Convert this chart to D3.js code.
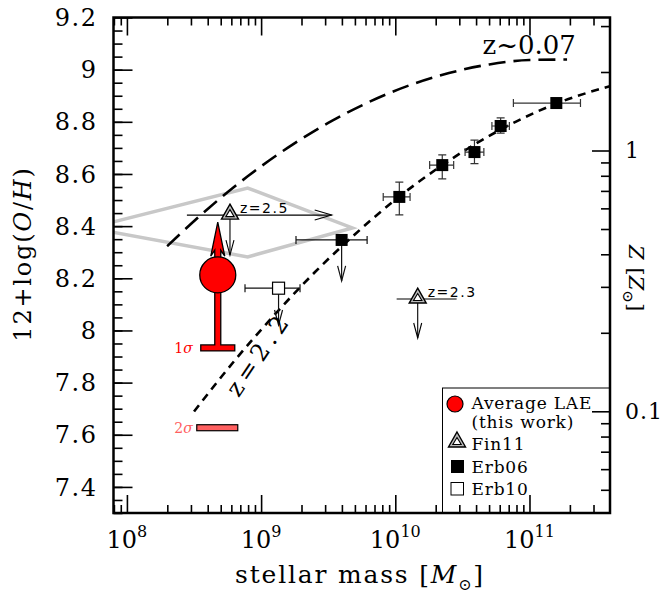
<!DOCTYPE html>
<html>
<head>
<meta charset="utf-8">
<script src="https://cdn.jsdelivr.net/npm/d3@7"></script>
<style>
  body { margin: 0; background: #fff; }
  svg { display: block; font-family: "DejaVu Serif", serif; }
</style>
</head>
<body>
<div id="chart"></div>
<script>
// ---- data (log stellar mass, 12+log(O/H)) ----
const massTicks = [1e8, 1e9, 1e10, 1e11];
const massExp = ["8", "9", "10", "11"];
const ohTicks = [7.4, 7.6, 7.8, 8, 8.2, 8.4, 8.6, 8.8, 9, 9.2];
const zMajor = [0.1, 1];
const zMajorLabels = ["0.1", "1"];
const ohSun = 8.69;

// z~0.07 relation
const mzrLocal = [[8.3, 8.323], [8.6, 8.465], [8.9, 8.591], [9.2, 8.701], [9.5, 8.796],
  [9.8, 8.875], [10.1, 8.939], [10.4, 8.987], [10.7, 9.02], [11.0, 9.037], [11.28, 9.039]];
// z~2.2 relation
const mzrHighz = [[8.5, 7.689], [8.8, 7.883], [9.1, 8.06], [9.4, 8.223], [9.7, 8.369],
  [10.0, 8.501], [10.3, 8.616], [10.6, 8.716], [10.9, 8.801], [11.2, 8.87], [11.6, 8.937]];
// grey region
const greyRegion = [[7.72, 8.393], [8.9, 8.546], [9.68, 8.393], [8.9, 8.282]];

const erb06 = [
  { m: 9.60, oh: 8.347, mLo: 9.26, mHi: 9.79, lim: 8.19 },
  { m: 10.03, oh: 8.512, mLo: 9.91, mHi: 10.11, ohLo: 8.443, ohHi: 8.569 },
  { m: 10.35, oh: 8.634, mLo: 10.256, mHi: 10.435, ohLo: 8.581, ohHi: 8.673 },
  { m: 10.59, oh: 8.684, mLo: 10.52, mHi: 10.66, ohLo: 8.64, ohHi: 8.73 },
  { m: 10.785, oh: 8.784, mLo: 10.72, mHi: 10.85, ohLo: 8.757, ohHi: 8.815 },
  { m: 11.20, oh: 8.872, mLo: 10.88, mHi: 11.38 }
];
const erb10 = [{ m: 9.13, oh: 8.162, mLo: 8.88, mHi: 9.29, lim: 8.021 }];
const fin11 = [
  { m: 8.768, oh: 8.45, mLo: 8.447, mHi: 9.526, lim: 8.289, label: "z=2.5", arrowRight: true },
  { m: 10.167, oh: 8.128, mLo: 10.01, mHi: 10.457, lim: 7.971, label: "z=2.3", arrowRight: false }
];
const lae = { m: 8.677, oh: 8.213, up: 8.415, sig1: 7.933, sig2: 7.627 };

// ---- setup ----
const W = 666, H = 602;
const margin = { left: 113.5, right: 56, top: 17.5, bottom: 89 };
const width = W - margin.left - margin.right;
const height = H - margin.top - margin.bottom;

const svg = d3.select("#chart").append("svg")
  .attr("width", W).attr("height", H);
svg.append("rect").attr("width", W).attr("height", H).attr("fill", "#fff");

const g = svg.append("g")
  .attr("transform", `translate(${margin.left},${margin.top})`);

const x = d3.scaleLog().domain([10 ** 7.9, 10 ** 11.6]).range([0, width]);
const y = d3.scaleLinear().domain([7.3, 9.2]).range([height, 0]);
const z = d3.scaleLog().domain([10 ** (7.3 - ohSun), 10 ** (9.2 - ohSun)]).range([height, 0]);
const X = (lm) => x(10 ** lm);

g.append("clipPath").attr("id", "plot-area")
  .append("rect").attr("width", width).attr("height", height);

const plot = g.append("g").attr("clip-path", "url(#plot-area)");

// grey region
plot.append("path")
  .datum(greyRegion)
  .attr("d", d3.line().x(d => X(d[0])).y(d => y(d[1])).curve(d3.curveLinearClosed))
  .attr("fill", "none")
  .attr("stroke", "#c8c8c8")
  .attr("stroke-width", 3.5);

// relations
const mzrLine = d3.line().x(d => X(d[0])).y(d => y(d[1])).curve(d3.curveMonotoneX);
plot.append("path").datum(mzrLocal)
  .attr("d", mzrLine)
  .attr("fill", "none").attr("stroke", "#000")
  .attr("stroke-width", 2.6).attr("stroke-dasharray", "17,8");
plot.append("path").datum(mzrHighz)
  .attr("d", mzrLine)
  .attr("fill", "none").attr("stroke", "#000")
  .attr("stroke-width", 2.6).attr("stroke-dasharray", "8,6");

g.append("text")
  .attr("x", X(10.65)).attr("y", y(9.06))
  .attr("font-size", 26)
  .text("z~0.07");

g.append("text")
  .attr("transform", `translate(${X(8.98)},${y(7.91)}) rotate(-56)`)
  .attr("text-anchor", "middle")
  .attr("dy", "0.35em")
  .attr("font-size", 24)
  .attr("letter-spacing", 5)
  .text("z=2.2");

// helpers
const downArrow = (sel, xp, y0, y1) => {
  sel.append("line").attr("x1", xp).attr("x2", xp).attr("y1", y0).attr("y2", y1);
  sel.append("path").attr("d", `M${xp - 4},${y1 - 15}L${xp},${y1}L${xp + 4},${y1 - 15}`)
    .attr("fill", "none");
};
const capH = (sel, x0, x1, yp) => {
  sel.append("line").attr("x1", x0).attr("x2", x1).attr("y1", yp).attr("y2", yp);
  [x0, x1].forEach(v => sel.append("line").attr("x1", v).attr("x2", v).attr("y1", yp - 4).attr("y2", yp + 4));
};
const capV = (sel, xp, y0, y1) => {
  sel.append("line").attr("x1", xp).attr("x2", xp).attr("y1", y0).attr("y2", y1);
  [y0, y1].forEach(v => sel.append("line").attr("x1", xp - 4).attr("x2", xp + 4).attr("y1", v).attr("y2", v));
};

// Erb06 and Erb10 error bars
const errs = plot.append("g").attr("stroke", "#333").attr("stroke-width", 1.2);
erb06.concat(erb10).forEach(d => {
  const gg = errs.append("g");
  capH(gg, X(d.mLo), X(d.mHi), y(d.oh));
  if (d.ohLo !== undefined) capV(gg, X(d.m), y(d.ohLo), y(d.ohHi));
  if (d.lim !== undefined) downArrow(gg.attr("stroke", "#111"), X(d.m), y(d.oh), y(d.lim));
});

plot.selectAll(".erb06").data(erb06).join("rect")
  .attr("class", "erb06")
  .attr("x", d => X(d.m) - 6).attr("y", d => y(d.oh) - 6)
  .attr("width", 12).attr("height", 12)
  .attr("fill", "#000");

plot.selectAll(".erb10").data(erb10).join("rect")
  .attr("class", "erb10")
  .attr("x", d => X(d.m) - 6).attr("y", d => y(d.oh) - 6)
  .attr("width", 12).attr("height", 12)
  .attr("fill", "#fff").attr("stroke", "#000").attr("stroke-width", 1.2);

// Fin11
const tri = (sel, cx, cy) => {
  sel.append("path").attr("d", `M${cx},${cy - 9}L${cx + 8.5},${cy + 6}L${cx - 8.5},${cy + 6}Z`)
    .attr("fill", "#bbb").attr("stroke", "#000").attr("stroke-width", 1.4);
  sel.append("path").attr("d", `M${cx},${cy - 3.5}L${cx + 4.2},${cy + 3.5}L${cx - 4.2},${cy + 3.5}Z`)
    .attr("fill", "#fff").attr("stroke", "#000").attr("stroke-width", 1.1);
};
fin11.forEach(d => {
  const gg = plot.append("g").attr("stroke", "#000").attr("stroke-width", 1.1);
  const xp = X(d.m), yp = y(d.oh);
  gg.append("line").attr("x1", X(d.mLo)).attr("x2", X(d.mHi)).attr("y1", yp + 2).attr("y2", yp + 2);
  if (d.arrowRight) {
    gg.append("path").attr("d", `M${X(d.mHi) - 17},${yp - 3}L${X(d.mHi)},${yp + 2}L${X(d.mHi) - 17},${yp + 7}`)
      .attr("fill", "none");
  }
  downArrow(gg, xp, yp + 2, y(d.lim));
  tri(gg, xp, yp);
  plot.append("text")
    .attr("x", xp + 10).attr("y", yp)
    .attr("font-family", "DejaVu Sans, sans-serif")
    .attr("font-size", 14).attr("letter-spacing", 1.5)
    .text(d.label);
});

// average LAE
const lx = X(lae.m), ly = y(lae.oh), r = 18;
const tip = y(lae.up), s1 = y(lae.sig1), s2 = y(lae.sig2);
plot.append("path")
  .attr("d", `M${lx},${tip}L${lx + 7},${tip + 34}L${lx + 3},${tip + 28}L${lx + 3},${ly}L${lx - 3},${ly}L${lx - 3},${tip + 28}L${lx - 7},${tip + 34}Z`)
  .attr("fill", "#ff0000").attr("stroke", "#000").attr("stroke-width", 1.3);
plot.append("path")
  .attr("d", `M${lx - 3},${ly}L${lx + 3},${ly}L${lx + 3},${s1 - 3}L${lx + 17},${s1 - 3}L${lx + 17},${s1 + 3}L${lx - 17},${s1 + 3}L${lx - 17},${s1 - 3}L${lx - 3},${s1 - 3}Z`)
  .attr("fill", "#ff0000").attr("stroke", "#000").attr("stroke-width", 1.3);
plot.append("rect")
  .attr("x", lx - 21).attr("y", s2 - 3).attr("width", 41).attr("height", 6)
  .attr("fill", "#ff6060").attr("stroke", "#000").attr("stroke-width", 1.2);
plot.append("circle")
  .attr("cx", lx).attr("cy", ly).attr("r", r)
  .attr("fill", "#ff0000").attr("stroke", "#000").attr("stroke-width", 1.3);
plot.append("text").attr("x", lx - 25).attr("y", s1 + 5)
  .attr("text-anchor", "end").attr("font-size", 14).attr("fill", "#ff0000")
  .html('1<tspan font-style="italic">σ</tspan>');
plot.append("text").attr("x", lx - 25).attr("y", s2 + 5)
  .attr("text-anchor", "end").attr("font-size", 14).attr("fill", "#ff6060")
  .html('2<tspan font-style="italic">σ</tspan>');

// ---- legend ----
const leg = g.append("g").attr("transform", `translate(${width - 167.5},${height - 125})`);
leg.append("rect").attr("width", 167.5).attr("height", 125)
  .attr("fill", "#fff").attr("stroke", "#000").attr("stroke-width", 1);
leg.append("circle").attr("cx", 12.5).attr("cy", 16).attr("r", 8)
  .attr("fill", "#ff0000").attr("stroke", "#000").attr("stroke-width", 1.2);
tri(leg, 14.5, 53);
leg.append("rect").attr("x", 8.5).attr("y", 72).attr("width", 13).attr("height", 13).attr("fill", "#000");
leg.append("rect").attr("x", 8.5).attr("y", 94.5).attr("width", 12.5).attr("height", 12.5)
  .attr("fill", "#fff").attr("stroke", "#000").attr("stroke-width", 1);
const legText = [["Average LAE", 21], ["(this work)", 40], ["Fin11", 62], ["Erb06", 85], ["Erb10", 107]];
leg.selectAll(".lt").data(legText).join("text")
  .attr("class", "lt")
  .attr("x", 29).attr("y", d => d[1])
  .attr("font-size", 17).attr("letter-spacing", 0.8)
  .text(d => d[0]);

// ---- axes ----
const isMajor = v => Math.abs(Math.log10(v) - Math.round(Math.log10(v))) < 1e-6;
const minorX = x.ticks().filter(v => !isMajor(v));
const minorY = d3.range(73, 185).map(v => v * 0.05).filter(v => v >= 7.3 && v <= 9.2);
const minorZ = z.ticks().filter(v => !isMajor(v));

const styleAxis = sel => {
  sel.select(".domain").remove();
  sel.selectAll("line").attr("stroke", "#000").attr("stroke-width", 1.6);
};

g.append("g").attr("transform", `translate(0,${height})`)
  .call(d3.axisBottom(x).tickValues(massTicks).tickSize(-18).tickFormat("")).call(styleAxis);
g.append("g").attr("transform", `translate(0,${height})`)
  .call(d3.axisBottom(x).tickValues(minorX).tickSize(-8).tickFormat("")).call(styleAxis);
g.append("g")
  .call(d3.axisTop(x).tickValues(massTicks).tickSize(-18).tickFormat("")).call(styleAxis);
g.append("g")
  .call(d3.axisTop(x).tickValues(minorX).tickSize(-8).tickFormat("")).call(styleAxis);
g.append("g")
  .call(d3.axisLeft(y).tickValues(ohTicks).tickSize(-19).tickFormat("")).call(styleAxis);
g.append("g")
  .call(d3.axisLeft(y).tickValues(minorY).tickSize(-9).tickFormat("")).call(styleAxis);
g.append("g").attr("transform", `translate(${width},0)`)
  .call(d3.axisRight(z).tickValues(zMajor).tickSize(-18).tickFormat("")).call(styleAxis);
g.append("g").attr("transform", `translate(${width},0)`)
  .call(d3.axisRight(z).tickValues(minorZ).tickSize(-9).tickFormat("")).call(styleAxis);

g.append("rect").attr("width", width).attr("height", height)
  .attr("fill", "none").attr("stroke", "#000").attr("stroke-width", 2.5);

// tick labels
g.selectAll(".xl").data(massTicks).join("text")
  .attr("class", "xl")
  .attr("x", d => x(d)).attr("y", height + 35)
  .attr("text-anchor", "middle").attr("font-size", 24)
  .each(function (d, i) {
    const t = d3.select(this);
    t.append("tspan").text("10");
    t.append("tspan").attr("dy", -11).attr("font-size", 16).text(massExp[i]);
  });
g.selectAll(".yl").data(ohTicks).join("text")
  .attr("class", "yl")
  .attr("x", -16).attr("y", d => y(d)).attr("dy", "0.36em")
  .attr("text-anchor", "end").attr("font-size", 24).attr("letter-spacing", 1.5)
  .text(d => String(d));
g.selectAll(".zl").data(zMajor).join("text")
  .attr("class", "zl")
  .attr("x", width + 15).attr("y", d => z(d)).attr("dy", "0.36em")
  .attr("font-size", 22).attr("letter-spacing", 1)
  .text((d, i) => zMajorLabels[i]);

// axis titles
svg.append("text")
  .attr("x", 360).attr("y", 583)
  .attr("text-anchor", "middle").attr("font-size", 25).attr("letter-spacing", 1.8)
  .html('stellar mass [<tspan font-style="italic">M</tspan><tspan dy="7" font-size="16">⊙</tspan><tspan dy="-7">]</tspan>');
svg.append("text")
  .attr("transform", "translate(31,254) rotate(-90)")
  .attr("text-anchor", "middle").attr("font-size", 24).attr("letter-spacing", 1.8)
  .html('12+log(<tspan font-style="italic">O</tspan>/<tspan font-style="italic">H</tspan>)');
svg.append("text")
  .attr("transform", "translate(629,278) rotate(90)")
  .attr("text-anchor", "middle").attr("font-size", 21)
  .html('<tspan font-style="italic">Z</tspan><tspan dx="8">[</tspan><tspan font-style="italic">Z</tspan><tspan dy="6" font-size="15">⊙</tspan><tspan dy="-6">]</tspan>');
</script>
</body>
</html>
